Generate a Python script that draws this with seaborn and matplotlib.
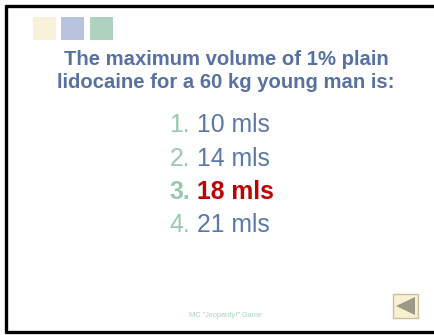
import matplotlib
matplotlib.use("Agg")
import matplotlib.pyplot as plt
from matplotlib.patches import Rectangle, Polygon
import seaborn as sns
import pandas as pd

# slide content
title_lines = ["The maximum volume of 1% plain", "lidocaine for a 60 kg young man is:"]
numbers = ["1.", "2.", "3.", "4."]
answers = ["10 mls", "14 mls", "18 mls", "21 mls"]
correct = 2
footer = 'MC "Jeopardy!" Game'
square_names = ["cream", "blue", "green"]
square_colors = ["#F8F3D8", "#B8C3DE", "#ADD3BE"]

sns.set_theme(style="white")
plt.rcParams['font.family'] = ['Liberation Sans', 'DejaVu Sans']

fig = plt.figure(figsize=(4.35, 3.35), dpi=100)
ax = fig.add_axes([0, 0, 1, 1])

# three decorative squares
sq = pd.DataFrame({"name": square_names, "x": [44.5, 72.5, 101.5], "y": [28.5] * 3})
sns.scatterplot(data=sq, x="x", y="y", hue="name", palette=square_colors, marker="s",
                s=272, linewidth=0, legend=False, ax=ax)
ax.set_xlim(0, 435)
ax.set_ylim(335, 0)
ax.set_axis_off()

# frame (left, top, bottom) - open on the right
ax.hlines([6, 332], [5, 5], [435, 435], color="black", lw=2.4)
ax.vlines([6.2], [5], [333], color="black", lw=2.4)
# keep the right side open
ax.add_patch(Rectangle((428, 8.5), 8, 321.5, facecolor="white", edgecolor="none", zorder=10))

title_color = "#5772A2"
for i, line in enumerate(title_lines):
    ax.text(226, 65 + 23 * i, line, ha="center", va="baseline", fontsize=14.6,
            fontweight="bold", color=title_color)

num_color = "#98C9AE"
ans_color = "#5A78AA"
for i, (n, a) in enumerate(zip(numbers, answers)):
    y = 132 + 33.5 * i
    if i == correct:
        ax.text(190, y, n, ha="right", va="baseline", fontsize=17.8, fontweight="bold", color=num_color)
        ax.text(197, y, a, ha="left", va="baseline", fontsize=17.8, fontweight="bold", color="#C00000")
    else:
        ax.text(190, y, n, ha="right", va="baseline", fontsize=17.8, color=num_color)
        ax.text(197, y, a, ha="left", va="baseline", fontsize=17.8, color=ans_color)

ax.text(225, 317, footer, ha="center", va="baseline", fontsize=5.3, color="#A9D2BA")

# back button
ax.add_patch(Rectangle((393, 294), 25, 24, facecolor="#F7F1D2", edgecolor="#C9C09A", lw=1))
ax.add_patch(Polygon([[396, 306], [415, 297], [415, 315]], closed=True, facecolor="#9A9A86", edgecolor="none"))

fig.savefig("out.png", dpi=100)
